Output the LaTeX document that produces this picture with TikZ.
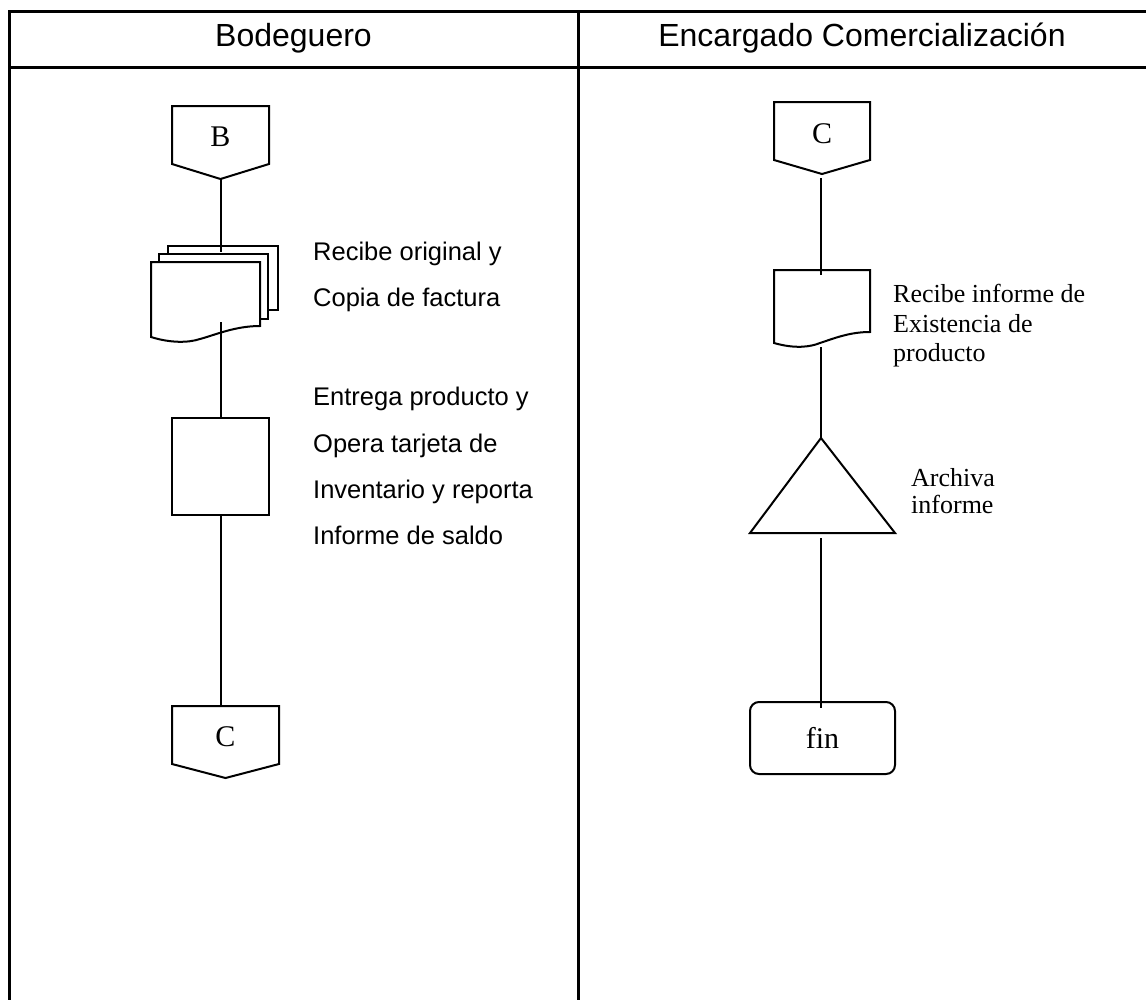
\documentclass[tikz,border=0pt]{standalone}
\usepackage{fontspec}
\setmainfont{Liberation Serif}
\newfontfamily\arialf{Liberation Sans}
\begin{document}
\begin{tikzpicture}[x=1pt,y=-1pt,line join=miter,
  shp/.style={line width=2pt},
  tbl/.style={line width=3pt},
  hdr/.style={font=\arialf\fontsize{32}{36}\selectfont,anchor=center,inner sep=0},
  ltxt/.style={font=\arialf\fontsize{25.5}{30}\selectfont,anchor=base west,inner sep=0},
  rtxt/.style={font=\fontsize{26}{30}\selectfont,anchor=base west,inner sep=0},
  lbl/.style={font=\fontsize{30}{34}\selectfont,inner sep=0}]
\useasboundingbox (0,0) rectangle (1146,999);
% table
\draw[tbl] (9,1000) -- (9,11) -- (1147,11);
\draw[tbl] (9,67) -- (1147,67);
\draw[tbl] (578,11) -- (578,1000);
\node[hdr] (h1) at (293.5,38) {Bodeguero};
\node[hdr] (h2) at (862,38) {Encargado Comercialización};
% left lane
\draw[shp] (172,106) -- (269,106) -- (269,164) -- (220.5,179) -- (172,164) -- cycle;
\node[lbl] (B) at (220.5,137) {B};
\coordinate (Bbot) at (220.5,179);
\draw[shp,fill=white] (168,246) rectangle (278,310);
\draw[shp,fill=white] (159,254) rectangle (268,319);
\draw[shp,fill=white] (151,262) -- (260,262) -- (260,326)
  .. controls (235,326) and (215,335) .. (200,339)
  .. controls (188,343) and (170,343) .. (151,337) -- cycle;
\coordinate (stktop) at (220.5,252);
\coordinate (stkbot) at (220.5,322);
\node[draw,shp,minimum width=97pt,minimum height=97pt,inner sep=0] (P1) at (220.5,466.5) {};
\draw[shp] (172,706) -- (279,706) -- (279,764) -- (225.5,778) -- (172,764) -- cycle;
\node[lbl] (C1) at (225.5,737) {C};
\coordinate (C1top) at (220.5,706);
\draw[shp] (Bbot) -- (stktop);
\draw[shp] (stkbot) -- (P1.north);
\draw[shp] (P1.south) -- (C1top);
\node[ltxt] (t1) at (313,260) {Recibe original y};
\node[ltxt] (t2) at (313,306) {Copia de factura};
\node[ltxt] (t3) at (313,405) {Entrega producto y};
\node[ltxt] (t4) at (313,452) {Opera tarjeta de};
\node[ltxt] (t5) at (313,498) {Inventario y reporta};
\node[ltxt] (t6) at (313,544) {Informe de saldo};
% right lane
\draw[shp] (774,102) -- (870,102) -- (870,160) -- (822,174) -- (774,160) -- cycle;
\node[lbl] (C2) at (822,134) {C};
\coordinate (C2b) at (821,178);
\draw[shp,fill=white] (774,270) -- (870,270) -- (870,332)
  .. controls (850,332) and (835,338) .. (820,343)
  .. controls (810,347) and (795,349) .. (774,343) -- cycle;
\coordinate (D2t) at (821,275);
\coordinate (D2b) at (821,347);
\draw[shp] (821,438) -- (895,533) -- (750,533) -- cycle;
\coordinate (Tap) at (821,438);
\coordinate (Tb) at (821,538);
\node[draw,shp,rounded corners=9pt,minimum width=145pt,minimum height=72pt,inner sep=0,lbl] (fin) at (822.5,738) {fin};
\coordinate (finin) at (821,708);
\draw[shp] (C2b) -- (D2t);
\draw[shp] (D2b) -- (Tap);
\draw[shp] (Tb) -- (finin);
\node[rtxt] (r1) at (893,302) {Recibe informe de};
\node[rtxt] (r2) at (893,332) {Existencia de};
\node[rtxt] (r3) at (893,361) {producto};
\node[rtxt] (r4) at (911,486) {Archiva};
\node[rtxt] (r5) at (911,513) {informe};
\end{tikzpicture}
\end{document}
